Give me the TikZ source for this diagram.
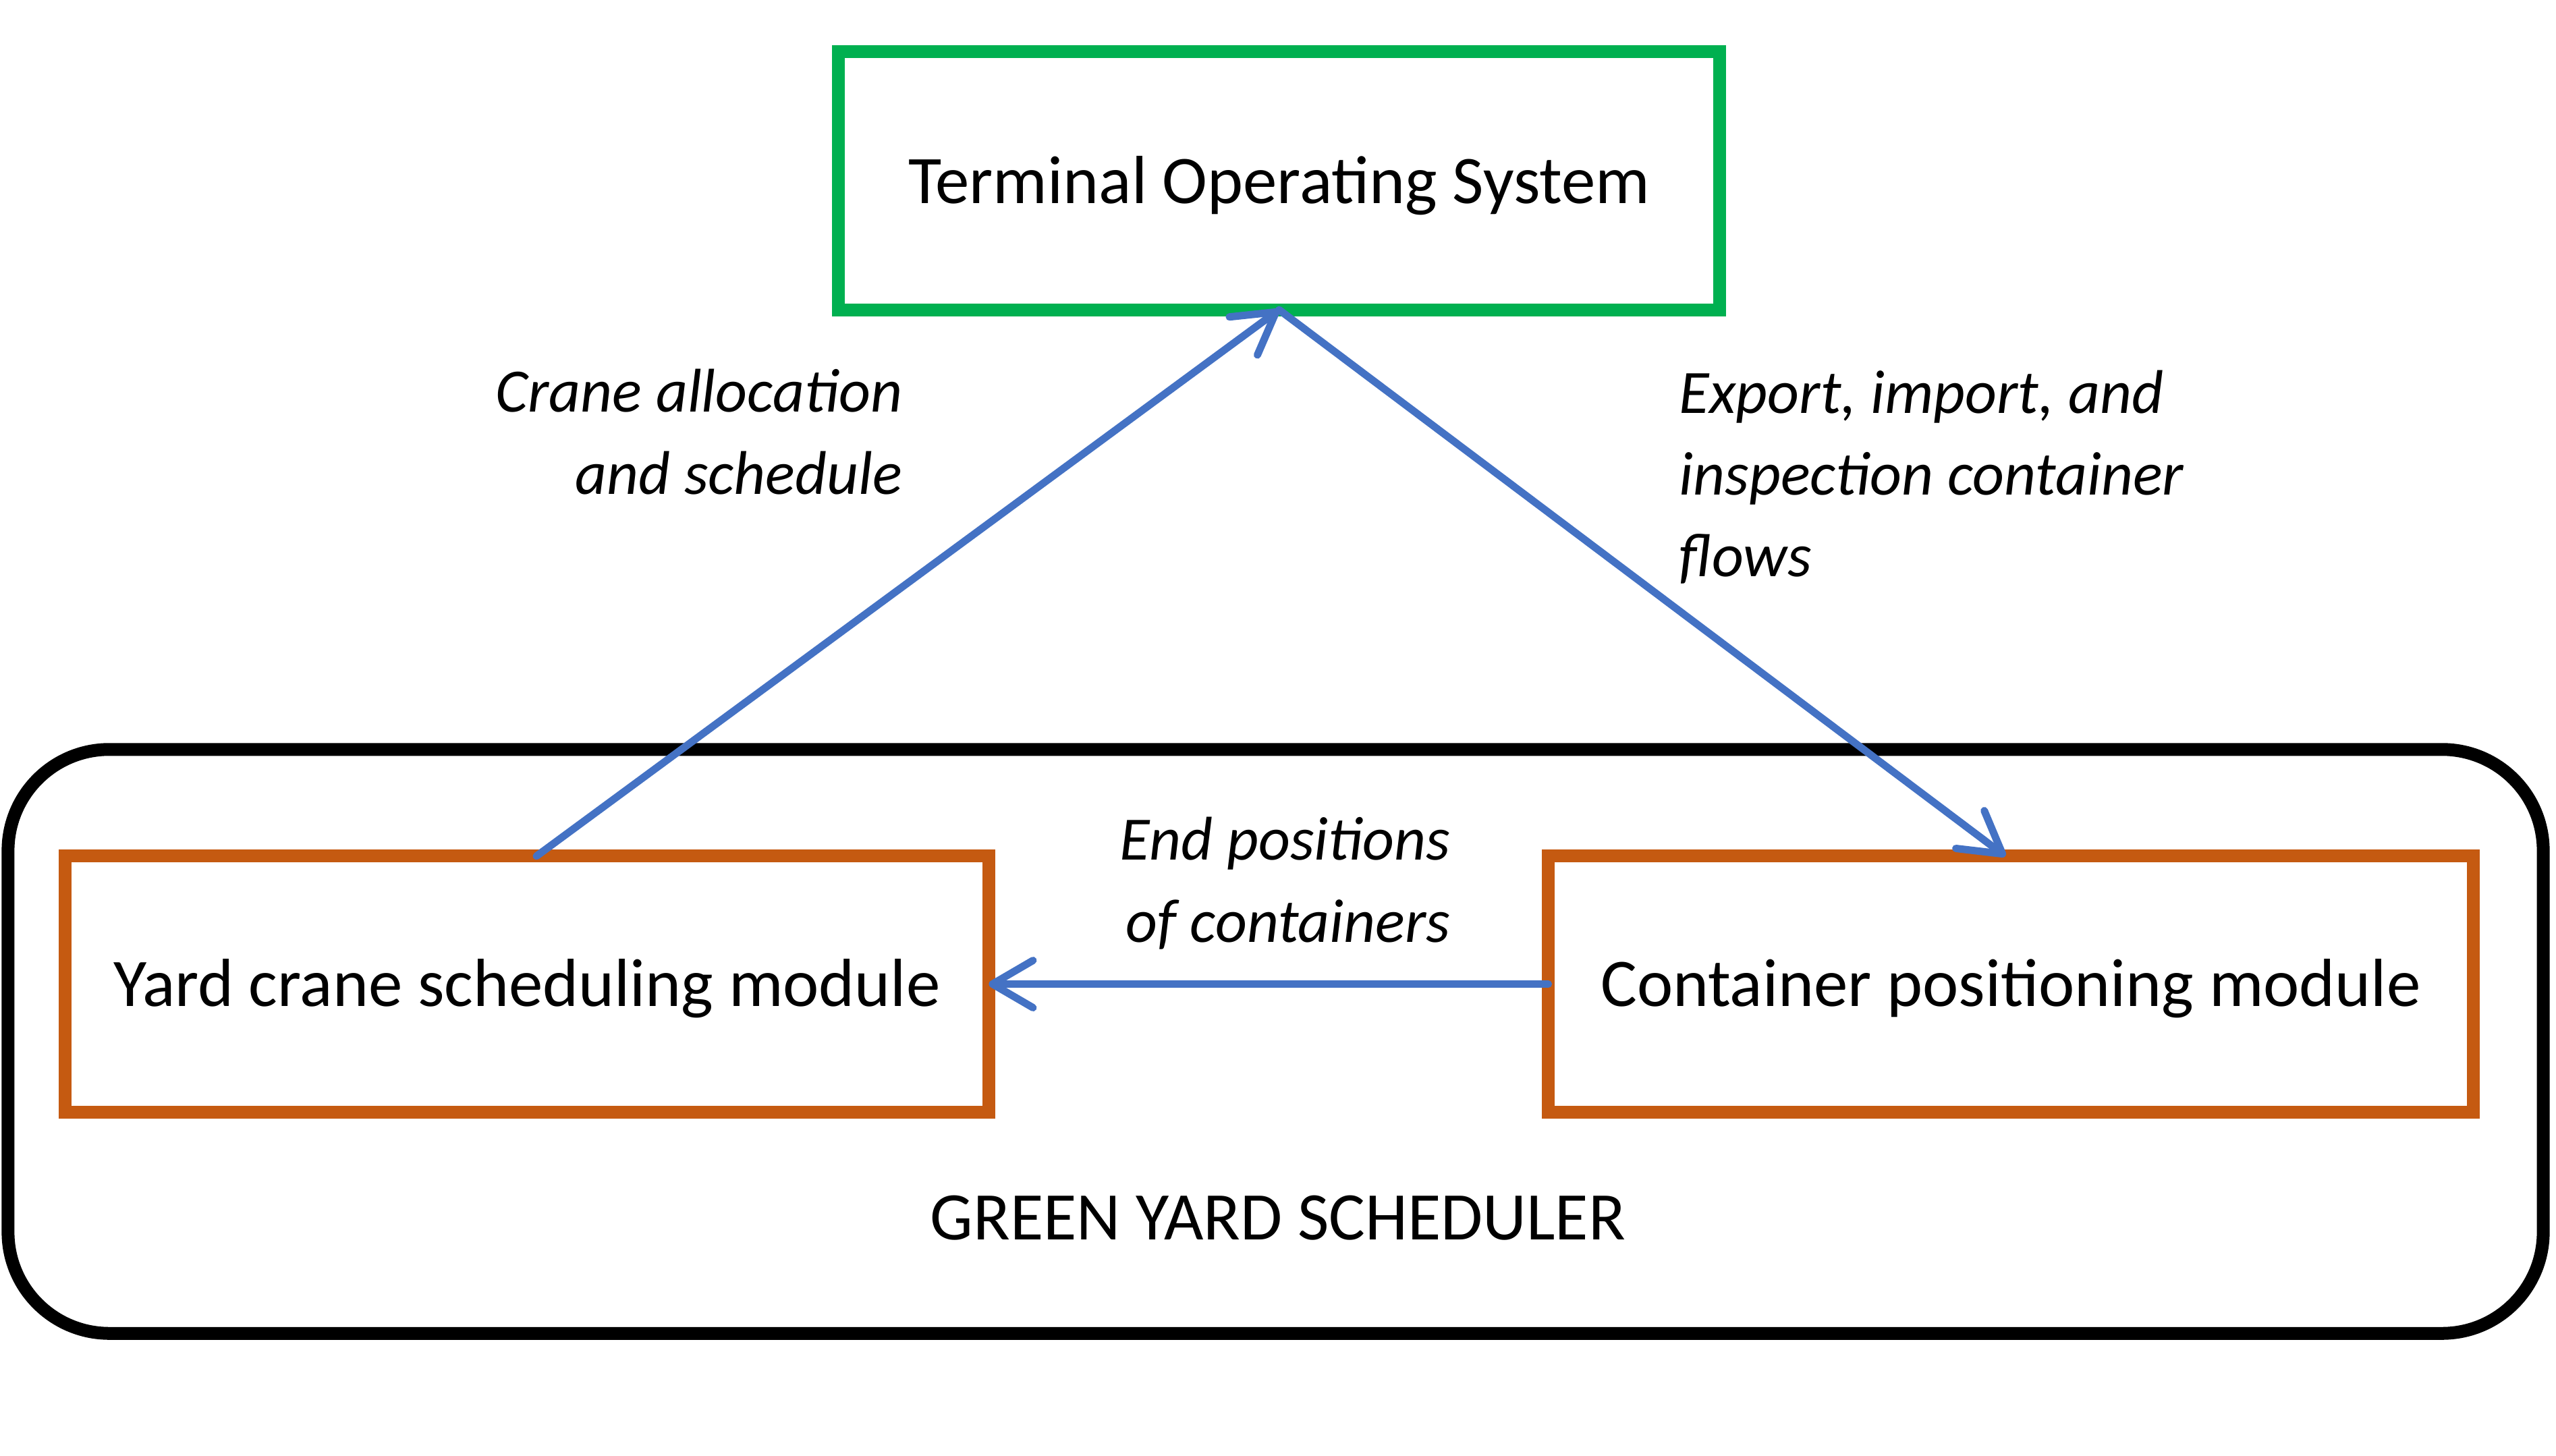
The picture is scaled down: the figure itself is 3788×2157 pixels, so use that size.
\documentclass[tikz,border=0pt]{standalone}
\usepackage{fontspec}
\setmainfont{Carlito}
\usetikzlibrary{arrows.meta}
\definecolor{tosgreen}{HTML}{00B050}
\definecolor{modorange}{HTML}{C55A11}
\definecolor{flowblue}{HTML}{4472C4}
\tikzset{
  box/.style={draw, line width=0.19cm, rectangle, outer sep=0pt, inner sep=0pt,
    font=\fontsize{28.7}{34}\selectfont, text height=24pt, text depth=5pt},
  tosbox/.style={box, draw=tosgreen},
  modbox/.style={box, draw=modorange},
  flow/.style={draw=flowblue, line width=0.11cm, line cap=round,
    -{Straight Barb[length=0.6cm, width=0.7cm, line cap=round, line join=round]}},
  lbl/.style={inner sep=0pt, font=\fontsize{26}{34.5}\selectfont\itshape},
}
\begin{document}
\begin{tikzpicture}[x=0.01cm, y=-0.01cm]
\useasboundingbox (0,0) rectangle (3788,2157);
% outer container
\node[draw, line width=0.19cm, rounded corners=1.5cm, outer sep=0pt, inner sep=0pt,
  minimum width=37.55cm, minimum height=8.65cm] (outer) at (1890.5,1543.5) {};
\node[inner sep=0pt, font=\fontsize{28.7}{34}\selectfont] (gys) at (1894,1805) {GREEN YARD SCHEDULER};
% boxes
\node[tosbox, minimum width=13.05cm, minimum height=3.82cm] (tos) at (1895.5,268) {Terminal Operating System};
\node[modbox, minimum width=13.68cm, minimum height=3.79cm] (left) at (781,1458.5) {Yard crane scheduling module};
\node[modbox, minimum width=13.70cm, minimum height=3.79cm] (right) at (2980,1458.5) {Container positioning module};
% labels
\node[lbl, anchor=east, align=right] (l1) at (1338,640) {Crane allocation\\and schedule};
\node[lbl, anchor=west, align=left] (l2) at (2488,707) {Export, import, and\\inspection container\\flows};
\node[lbl, anchor=east, align=right] (l3) at (2150,1309) {End positions\\of containers};
% connectors
\draw[flow] ([xshift=0.14cm]left.north) -- (tos.south);
\draw[flow] (tos.south) -- ([xshift=-0.08cm]right.north);
\draw[flow] (right.west) -- (left.east);
\end{tikzpicture}
\end{document}
